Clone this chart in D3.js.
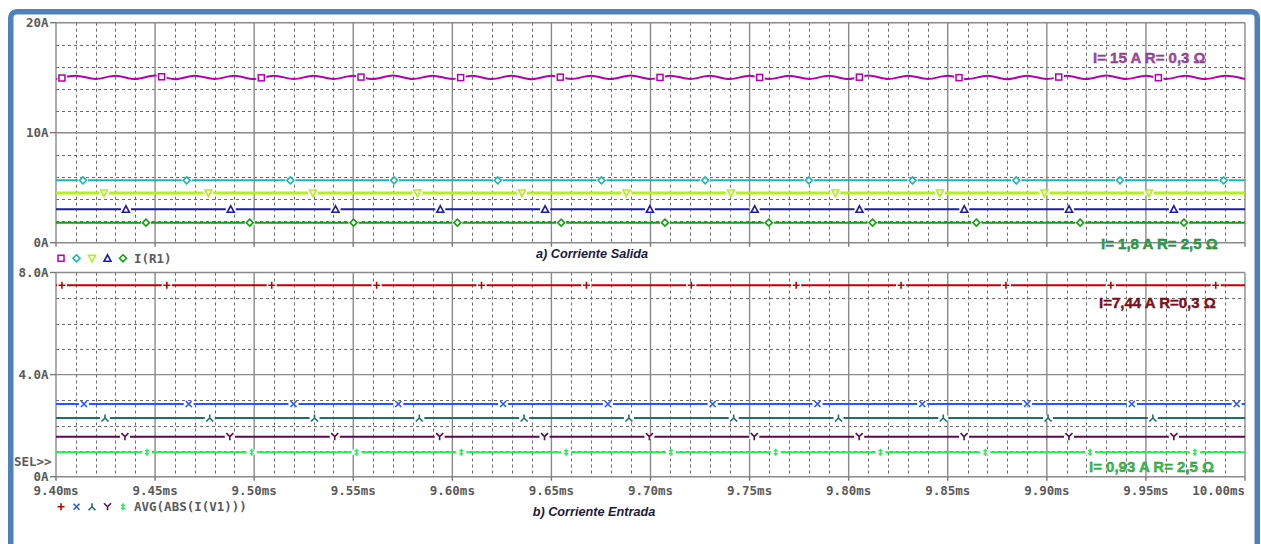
<!DOCTYPE html>
<html>
<head>
<meta charset="utf-8">
<script src="https://cdn.jsdelivr.net/npm/d3@7"></script>
<style>
  html, body { margin: 0; padding: 0; background: #fff; }
  svg { display: block; }
</style>
</head>
<body>
<div id="chart"></div>
<script>
// time axis (ms)
const timeTicks = [9.40, 9.45, 9.50, 9.55, 9.60, 9.65, 9.70, 9.75, 9.80, 9.85, 9.90, 9.95, 10.00];
const timeLabels = ["9.40ms", "9.45ms", "9.50ms", "9.55ms", "9.60ms", "9.65ms", "9.70ms", "9.75ms", "9.80ms", "9.85ms", "9.90ms", "9.95ms", "10.00ms"];

// top panel: I(R1)
const topTicks = [0, 10, 20];
const topLabels = ["0A", "10A", "20A"];
// magenta trace sampled every 0.01 ms from 9.40 ms
const outMagenta = [
  14.88, 15.18, 14.89, 15.17, 14.88, 15.19, 14.87, 15.18, 14.89, 15.17,
  14.88, 15.18, 14.88, 15.18, 14.89, 15.17, 14.88, 15.19, 14.88, 15.18,
  14.89, 15.17, 14.88, 15.18, 14.87, 15.18, 14.89, 15.17, 14.88, 15.19,
  14.88, 15.18, 14.89, 15.17, 14.88, 15.18, 14.88, 15.18, 14.89, 15.17,
  14.88, 15.19, 14.88, 15.18, 14.89, 15.17, 14.88, 15.18, 14.87, 15.18,
  14.89, 15.17, 14.88, 15.19, 14.88, 15.18, 14.89, 15.17, 14.88, 15.18,
  14.89
];
const outCyan = [5.67, 5.67];
const outYellow = [4.52, 4.52];
const outBlue = [3.04, 3.04];
const outGreen = [1.82, 1.82];

// bottom panel: AVG(ABS(I(V1)))
const botTicks = [0, 4, 8];
const botLabels = ["0A", "4.0A", "8.0A"];
const inRed = [7.5, 7.5];
const inBlue = [2.85, 2.85];
const inTeal = [2.3, 2.3];
const inPurple = [1.57, 1.57];
const inGreen = [0.96, 0.96];

// marker placement (ms): first marker, spacing
const markStart = { mag: 9.403, cya: 9.4136, yel: 9.4242, blu: 9.4353, grn: 9.4454,
                    red: 9.403, xbl: 9.4141, tea: 9.4247, pur: 9.4348, lgr: 9.4459 };
const markStep  = { mag: 0.0503, cya: 0.05233, yel: 0.05273, blu: 0.05288, grn: 0.05238,
                    red: 0.05293, xbl: 0.05288, tea: 0.05288, pur: 0.05293, lgr: 0.05288 };

const W = 1261, H = 544;
const svg = d3.select("#chart").append("svg").attr("width", W).attr("height", H);

// blue frame
svg.append("rect")
  .attr("x", 10.75).attr("y", 11.75).attr("width", 1246.5).attr("height", 620)
  .attr("rx", 6).attr("fill", "none").attr("stroke", "#4f81bd").attr("stroke-width", 5.5);

const x = d3.scaleLinear().domain([9.40, 10.00]).range([56, 1245]);
const yTop = d3.scaleLinear().domain([0, 20]).range([242.7, 22.7]);
const yBot = d3.scaleLinear().domain([0, 8]).range([476.7, 272.5]);

const minorT = d3.range(0, 61).map((i) => 9.40 + i * 0.01);
const monoFont = "'DejaVu Sans Mono', 'Liberation Mono', monospace";

function grid(y, minorStep, majors) {
  const g = svg.append("g");
  const [y0, y1] = y.domain();
  const minors = d3.range(y0, y1 + 1e-9, minorStep).filter((v) => !majors.includes(v));
  const vMin = minorT.filter((_, i) => i % 5 !== 0);

  g.selectAll(".hm").data(minors).join("line")
    .attr("x1", x(9.40)).attr("x2", x(10.0))
    .attr("y1", (d) => Math.round(y(d)) + 0.5).attr("y2", (d) => Math.round(y(d)) + 0.5)
    .attr("stroke", "#6a6a6a").attr("stroke-width", 1).attr("stroke-dasharray", "3 3");
  g.selectAll(".vm").data(vMin).join("line")
    .attr("x1", (d) => Math.round(x(d)) + 0.5).attr("x2", (d) => Math.round(x(d)) + 0.5)
    .attr("y1", y.range()[1]).attr("y2", y.range()[0])
    .attr("stroke", "#6a6a6a").attr("stroke-width", 1).attr("stroke-dasharray", "3 3");
  g.selectAll(".hM").data(majors).join("line")
    .attr("x1", x(9.40)).attr("x2", x(10.0))
    .attr("y1", (d) => y(d)).attr("y2", (d) => y(d))
    .attr("stroke", "#8a8a8a").attr("stroke-width", 1.4);
  g.selectAll(".vM").data(timeTicks).join("line")
    .attr("x1", (d) => x(d)).attr("x2", (d) => x(d))
    .attr("y1", y.range()[1]).attr("y2", y.range()[0])
    .attr("stroke", "#8a8a8a").attr("stroke-width", 1.4);
  // tick marks
  g.selectAll(".yt").data(majors).join("line")
    .attr("x1", 50).attr("x2", 56).attr("y1", (d) => y(d)).attr("y2", (d) => y(d))
    .attr("stroke", "#777").attr("stroke-width", 1.4);
  g.selectAll(".xt").data(timeTicks).join("line")
    .attr("x1", (d) => x(d)).attr("x2", (d) => x(d))
    .attr("y1", y.range()[0]).attr("y2", y.range()[0] + 4)
    .attr("stroke", "#777").attr("stroke-width", 1.4);
}

function yLabels(y, ticks, labels) {
  svg.append("g").selectAll("text").data(ticks).join("text")
    .attr("x", 48.5).attr("y", (d) => y(d) + 4.5)
    .attr("text-anchor", "end")
    .attr("font-family", monoFont).attr("font-weight", "bold").attr("font-size", 12.5)
    .attr("fill", "#5a5a5a")
    .text((d, i) => labels[i]);
}

grid(yTop, 2, topTicks);
grid(yBot, 1, botTicks);
yLabels(yTop, topTicks, topLabels);
yLabels(yBot, botTicks, botLabels);

svg.append("g").selectAll("text").data(timeTicks).join("text")
  .attr("x", (d) => x(d))
  .attr("y", 495)
  .attr("text-anchor", (d, i) => (i === timeTicks.length - 1 ? "end" : "middle"))
  .attr("font-family", monoFont).attr("font-weight", "bold").attr("font-size", 12.5)
  .attr("fill", "#5a5a5a")
  .text((d, i) => timeLabels[i]);

svg.append("text").attr("x", 14).attr("y", 466)
  .attr("font-family", monoFont).attr("font-weight", "bold").attr("font-size", 12.5)
  .attr("fill", "#5a5a5a").text("SEL>>");

// markers
const markerPaths = {
  diamond: "M0,-3.5L3.5,0L0,3.5L-3.5,0Z",
  triDown: "M-3.5,-3L3.5,-3L0,3.5Z",
  triUp: "M0,-3.5L3.5,3L-3.5,3Z",
  plus: "M-3.5,0H3.5M0,-3.5V3.5",
  cross: "M-3,-3L3,3M3,-3L-3,3",
  lambda: "M0,-3.5V0L-3.5,3.5M0,0L3.5,3.5",
  ypsilon: "M-3.5,-3.5L0,0L3.5,-3.5M0,0V3.5",
  ddagger: "M0,-3.5V3.5M-2,-1.5H2M-2,1.5H2",
};

function drawMarker(g, type, cx, cy, color, gap) {
  if (gap) {
    g.append("rect").attr("x", cx - 5).attr("y", cy - 2.5).attr("width", 10).attr("height", 5).attr("fill", "#fff");
  }
  if (type === "square") {
    g.append("rect").attr("x", cx - 3).attr("y", cy - 3).attr("width", 6).attr("height", 6)
      .attr("fill", "#fff").attr("stroke", color).attr("stroke-width", 1.5);
    return;
  }
  const closed = ["diamond", "triDown", "triUp"].includes(type);
  g.append("path").attr("d", markerPaths[type])
    .attr("transform", `translate(${cx},${cy})`)
    .attr("fill", closed ? "#fff" : "none")
    .attr("stroke", color).attr("stroke-width", 1.6);
}

const topSeries = [
  { key: "mag", values: outMagenta, color: "#b000b0", width: 2, marker: "square" },
  { key: "cya", values: outCyan, color: "#1fb4b4", width: 2, marker: "diamond" },
  { key: "yel", values: outYellow, color: "#b2f01e", width: 3, marker: "triDown" },
  { key: "blu", values: outBlue, color: "#1c1ca8", width: 2, marker: "triUp" },
  { key: "grn", values: outGreen, color: "#13a013", width: 2, marker: "diamond" },
];
const botSeries = [
  { key: "red", values: inRed, color: "#c00000", width: 2, marker: "plus" },
  { key: "xbl", values: inBlue, color: "#1e5aff", width: 2, marker: "cross" },
  { key: "tea", values: inTeal, color: "#1e6e6e", width: 2, marker: "lambda" },
  { key: "pur", values: inPurple, color: "#5a0a50", width: 2, marker: "ypsilon" },
  { key: "lgr", values: inGreen, color: "#28f050", width: 2, marker: "ddagger" },
];

function toPoints(values) {
  const step = (10.0 - 9.40) / (values.length - 1);
  return values.map((v, i) => [9.40 + i * step, v]);
}

function valueAt(points, t) {
  const i = Math.min(points.length - 2, Math.max(0, d3.bisectLeft(points.map((p) => p[0]), t) - 1));
  const [t0, v0] = points[i], [t1, v1] = points[i + 1];
  return v0 + (v1 - v0) * (t - t0) / (t1 - t0);
}

function drawSeries(list, y) {
  const g = svg.append("g");
  list.forEach((s) => {
    const pts = toPoints(s.values);
    const line = d3.line().x((d) => x(d[0])).y((d) => y(d[1])).curve(d3.curveMonotoneX);
    g.append("path").attr("d", line(pts)).attr("fill", "none")
      .attr("stroke", s.color).attr("stroke-width", s.width);
    const mg = g.append("g");
    for (let t = markStart[s.key]; t <= 10.0; t += markStep[s.key]) {
      drawMarker(mg, s.marker, x(t), y(valueAt(pts, t)), s.color, true);
    }
  });
}

drawSeries(topSeries, yTop);
drawSeries(botSeries, yBot);

// legends
function legend(list, yPos, label) {
  const g = svg.append("g");
  list.forEach((s, i) => drawMarker(g, s.marker, 61 + i * 15.5, yPos, s.color, false));
  g.append("text").attr("x", 134).attr("y", yPos + 4.5)
    .attr("font-family", monoFont).attr("font-weight", "bold").attr("font-size", 12.5)
    .attr("fill", "#5a5a5a").text(label);
}
legend(topSeries, 258.3, "I(R1)");
legend(botSeries, 506.7, "AVG(ABS(I(V1)))");

// titles
svg.append("text").attr("x", 592).attr("y", 257.5).attr("text-anchor", "middle")
  .attr("font-family", "'Liberation Sans', Arial, sans-serif").attr("font-style", "italic")
  .attr("font-weight", "bold").attr("font-size", 12.7).attr("fill", "#1b1b3a")
  .text("a) Corriente Salida");
svg.append("text").attr("x", 594).attr("y", 515.5).attr("text-anchor", "middle")
  .attr("font-family", "'Liberation Sans', Arial, sans-serif").attr("font-style", "italic")
  .attr("font-weight", "bold").attr("font-size", 12.7).attr("fill", "#1b1b3a")
  .text("b) Corriente Entrada");

// annotations
const notes = [
  { text: "I= 15 A R= 0,3 Ω", x: 1093, y: 62.5, color: "#a848a8", edge: "#6a2a6a" },
  { text: "I= 1,8 A R= 2,5 Ω", x: 1101, y: 248.5, color: "#2aa448", edge: "#1a6a30" },
  { text: "I=7,44 A R=0,3 Ω", x: 1099, y: 308, color: "#8c1020", edge: "#50060e" },
  { text: "I= 0,93 A R= 2,5 Ω", x: 1089, y: 471.5, color: "#34c44c", edge: "#2a7a34" },
];
svg.append("g").selectAll("text").data(notes).join("text")
  .attr("x", (d) => d.x).attr("y", (d) => d.y)
  .attr("font-family", "'Liberation Sans', Arial, sans-serif").attr("font-weight", "bold")
  .attr("font-size", 15).attr("fill", (d) => d.color)
  .attr("stroke", (d) => d.edge).attr("stroke-width", 0.35)
  .text((d) => d.text);
</script>
</body>
</html>
